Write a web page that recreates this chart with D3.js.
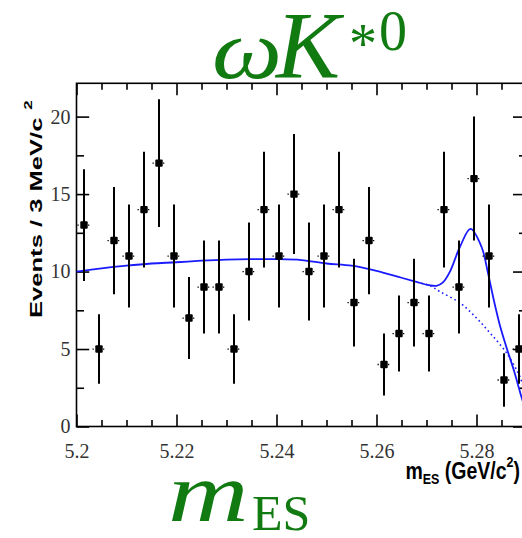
<!DOCTYPE html>
<html>
<head>
<meta charset="utf-8">
<script src="https://cdn.jsdelivr.net/npm/d3@7"></script>
<style>
  html, body { margin: 0; padding: 0; background: #fff; }
  svg { display: block; }
</style>
</head>
<body>
<svg id="chart" width="522" height="538"></svg>
<script>
// ---- data ----
const binCenters = [5.2015, 5.2045, 5.2075, 5.2105, 5.2135, 5.2165, 5.2195, 5.2225, 5.2255, 5.2285,
                    5.2315, 5.2345, 5.2375, 5.2405, 5.2435, 5.2465, 5.2495, 5.2525, 5.2555, 5.2585,
                    5.2615, 5.2645, 5.2675, 5.2705, 5.2735, 5.2765, 5.2795, 5.2825, 5.2855, 5.2885];
const counts = [13, 5, 12, 11, 14, 17, 11, 7, 9, 9,
                5, 10, 14, 11, 15, 10, 11, 14, 8, 12,
                4, 6, 8, 6, 14, 9, 16, 11, 3, 5];
const errors = [3.61, 2.24, 3.46, 3.32, 3.74, 4.12, 3.32, 2.65, 3.0, 3.0,
                2.24, 3.16, 3.74, 3.32, 3.87, 3.16, 3.32, 3.74, 2.83, 3.46,
                2.0, 2.45, 2.83, 2.45, 3.74, 3.0, 4.0, 3.32, 1.73, 2.24];
const binHalfWidth = 0.0015;

// total fit (solid blue)
const fitX = [5.2000, 5.2050, 5.2100, 5.2150, 5.2200, 5.2250, 5.2300, 5.2350, 5.2400, 5.2450,
              5.2500, 5.2550, 5.2600, 5.2650, 5.2680, 5.2705, 5.2720, 5.2733, 5.2747, 5.2767,
              5.2788, 5.2810, 5.2823, 5.2835, 5.2847, 5.2860, 5.2875, 5.2890, 5.2895];
const fitY = [10.0, 10.2, 10.38, 10.52, 10.6, 10.7, 10.77, 10.8, 10.8, 10.74,
              10.52, 10.38, 10.05, 9.6, 9.33, 9.12, 9.08, 9.3, 10.0, 11.6,
              12.75, 11.6, 9.9, 8.1, 6.5, 5.1, 3.6, 1.9, 1.4];
// background component (dotted blue)
const bkgX = [5.2690, 5.2705, 5.2727, 5.2767, 5.2800, 5.2827, 5.2860, 5.2887, 5.2893];
const bkgY = [9.25, 9.12, 8.7, 7.98, 7.0, 6.04, 4.75, 3.2, 2.6];

const xMajorTicks = [5.2, 5.22, 5.24, 5.26, 5.28];
const xTickLabels = ["5.2", "5.22", "5.24", "5.26", "5.28"];
const xMinorTicks = [5.205, 5.21, 5.215, 5.225, 5.23, 5.235, 5.245, 5.25, 5.255, 5.265, 5.27, 5.275, 5.285];
const yMajorTicks = [0, 5, 10, 15, 20];
const yTickLabels = ["0", "5", "10", "15", "20"];
const yMinorTicks = [2.5, 7.5, 12.5, 17.5];
const xDomain = [5.2, 5.29];
const yDomain = [0, 22.15];

// ---- drawing ----
const svg = d3.select("#chart");
const L = 76.5, R = 526.5, T = 83.3, B = 426.5;
const x = d3.scaleLinear().domain(xDomain).range([L, R]);
const y = d3.scaleLinear().domain(yDomain).range([B, T]);

const green = "#117a11";
const tickFont = "'Liberation Serif', 'DejaVu Serif', serif";
const sans = "'Liberation Sans', Arial, sans-serif";

function styleAxis(g) {
  g.select(".domain").remove();
  g.selectAll(".tick line").attr("stroke", "#000").attr("stroke-width", 1.6);
  g.selectAll(".tick text").attr("fill", "#333").style("font-family", tickFont).style("font-size", "20px");
}

// bottom
svg.append("g").attr("transform", `translate(0,${B})`)
  .call(d3.axisBottom(x).tickValues(xMajorTicks).tickSize(-12).tickPadding(17)
        .tickFormat((d, i) => xTickLabels[i]))
  .call(styleAxis);
svg.append("g").attr("transform", `translate(0,${B})`)
  .call(d3.axisBottom(x).tickValues(xMinorTicks).tickSize(-6.5).tickFormat(""))
  .call(styleAxis);
// top
svg.append("g").attr("transform", `translate(0,${T})`)
  .call(d3.axisTop(x).tickValues(xMajorTicks).tickSize(-12).tickFormat(""))
  .call(styleAxis);
svg.append("g").attr("transform", `translate(0,${T})`)
  .call(d3.axisTop(x).tickValues(xMinorTicks).tickSize(-6.5).tickFormat(""))
  .call(styleAxis);
// left
svg.append("g").attr("transform", `translate(${L},0)`)
  .call(d3.axisLeft(y).tickValues(yMajorTicks).tickSize(-12.7).tickPadding(6)
        .tickFormat((d, i) => yTickLabels[i]))
  .call(styleAxis);
svg.append("g").attr("transform", `translate(${L},0)`)
  .call(d3.axisLeft(y).tickValues(yMinorTicks).tickSize(-7.5).tickFormat(""))
  .call(styleAxis);
// right
svg.append("g").attr("transform", `translate(${R},0)`)
  .call(d3.axisRight(y).tickValues(yMajorTicks).tickSize(-13.5).tickFormat(""))
  .call(styleAxis);
svg.append("g").attr("transform", `translate(${R},0)`)
  .call(d3.axisRight(y).tickValues(yMinorTicks).tickSize(-7.5).tickFormat(""))
  .call(styleAxis);

// frame
svg.append("rect").attr("x", L).attr("y", T).attr("width", R - L).attr("height", B - T)
  .attr("fill", "none").attr("stroke", "#000").attr("stroke-width", 1.6);

// clip
svg.append("clipPath").attr("id", "plotclip").append("rect")
  .attr("x", L).attr("y", T).attr("width", R - L).attr("height", B - T);
const plot = svg.append("g").attr("clip-path", "url(#plotclip)");

// fit curves
const lineGen = d3.line().x(d => x(d[0])).y(d => y(d[1])).curve(d3.curveCatmullRom.alpha(0.5));
plot.append("path").datum(bkgX.map((v, i) => [v, bkgY[i]]))
  .attr("d", lineGen).attr("fill", "none").attr("stroke", "#1a1aff")
  .attr("stroke-width", 1.6).attr("stroke-dasharray", "1.6 3");
plot.append("path").datum(fitX.map((v, i) => [v, fitY[i]]))
  .attr("d", lineGen).attr("fill", "none").attr("stroke", "#1a1aff")
  .attr("stroke-width", 1.8);

// data points
const pts = binCenters.map((c, i) => ({ c, n: counts[i], e: errors[i] }));
const pg = plot.append("g");
pg.selectAll("line.ev").data(pts).join("line").attr("class", "ev")
  .attr("x1", d => x(d.c)).attr("x2", d => x(d.c))
  .attr("y1", d => y(d.n - d.e)).attr("y2", d => y(d.n + d.e))
  .attr("stroke", "#000").attr("stroke-width", 2);
pg.selectAll("line.eh").data(pts).join("line").attr("class", "eh")
  .attr("x1", d => x(d.c - binHalfWidth) + 1).attr("x2", d => x(d.c + binHalfWidth) - 1)
  .attr("y1", d => y(d.n)).attr("y2", d => y(d.n))
  .attr("stroke", "#000").attr("stroke-width", 1.3).attr("stroke-dasharray", "1.3 2.2");
pg.selectAll("rect.mk").data(pts).join("rect").attr("class", "mk")
  .attr("x", d => x(d.c) - 3.7).attr("y", d => y(d.n) - 3.7)
  .attr("width", 7.4).attr("height", 7.4).attr("rx", 1).attr("fill", "#000");

// y axis title (rotated; glyphs stretched along the text direction as in the reference)
const ylab = svg.append("text")
  .attr("transform", "translate(42,318) rotate(-90) scale(1.55,1)")
  .style("font-family", sans).style("font-weight", "bold").style("font-size", "16.5px").attr("fill", "#000");
ylab.append("tspan").text("Events / 3 MeV/c");
ylab.append("tspan").attr("dx", 5).attr("dy", -10).style("font-size", "11px").text("2");

// x axis title (glyphs stretched vertically)
const xlab = svg.append("text").attr("transform", "translate(520,479) scale(1,1.2)").attr("text-anchor", "end")
  .style("font-family", sans).style("font-weight", "bold").style("font-size", "19.5px").attr("fill", "#000");
xlab.append("tspan").text("m");
xlab.append("tspan").attr("dy", 4).style("font-size", "12.5px").text("ES");
xlab.append("tspan").attr("dy", -4).text(" (GeV/c");
xlab.append("tspan").attr("dy", -10).style("font-size", "12.5px").text("2");
xlab.append("tspan").attr("dy", 10).text(")");

// green titles
const serif = "'Liberation Serif', 'DejaVu Serif', serif";
svg.append("text").attr("transform", "translate(212,78) scale(1.18,1)").style("font-family", serif)
  .style("font-style", "italic").style("font-size", "84px").attr("fill", green).text("ω");
svg.append("text").attr("x", 276).attr("y", 78).style("font-family", serif)
  .style("font-style", "italic").style("font-size", "96px").attr("fill", green).text("K");
svg.append("text").attr("x", 349).attr("y", 63).style("font-family", serif)
  .style("font-size", "56px").attr("fill", green).text("*");
svg.append("text").attr("x", 379).attr("y", 50).style("font-family", serif)
  .style("font-size", "56px").attr("fill", green).text("0");

svg.append("text").attr("transform", "translate(168,521) scale(1.33,1)").style("font-family", serif)
  .style("font-style", "italic").style("font-size", "84px").attr("fill", green).text("m");
svg.append("text").attr("x", 252).attr("y", 530).style("font-family", serif)
  .style("font-size", "50px").attr("fill", green).text("ES");
</script>
</body>
</html>
